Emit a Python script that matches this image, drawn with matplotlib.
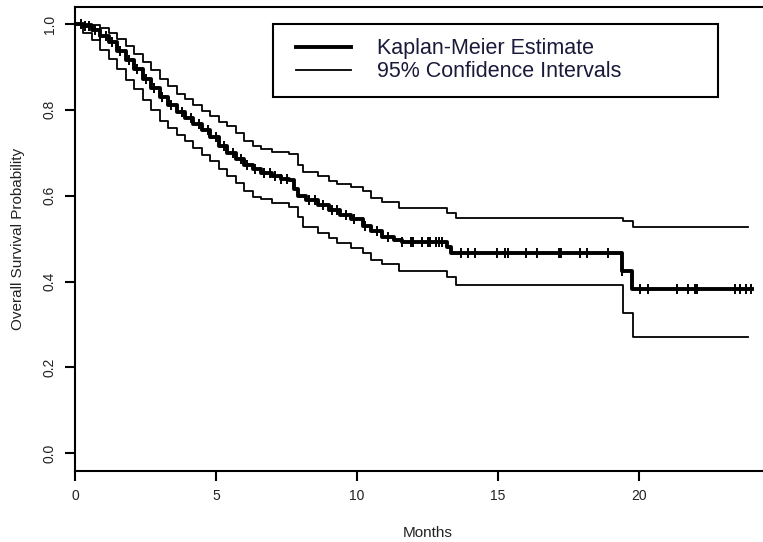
import numpy as np
import matplotlib
matplotlib.use("Agg")
import matplotlib.pyplot as plt
from matplotlib.lines import Line2D
from matplotlib.legend_handler import HandlerLine2D

plt.rcParams['font.family'] = ['Liberation Sans', 'DejaVu Sans']

# Kaplan-Meier estimate (months, survival after step)
km_time = [0.0, 0.3, 0.6, 0.9, 1.2, 1.5, 1.8, 2.1, 2.4, 2.7, 3.0, 3.3, 3.6, 3.9,
           4.2, 4.5, 4.8, 5.1, 5.4, 5.7, 6.0, 6.3, 6.6, 7.0, 7.3, 7.6, 7.75, 7.9,
           8.2, 8.6, 9.0, 9.4, 9.8, 10.2, 10.5, 10.9, 11.3, 11.6, 13.2, 13.35,
           19.39, 19.74, 24.0]
km_surv = [1.0, 0.995, 0.985, 0.972, 0.957, 0.938, 0.915, 0.895, 0.872, 0.85, 0.83,
           0.812, 0.795, 0.782, 0.768, 0.752, 0.737, 0.715, 0.70, 0.685, 0.672,
           0.662, 0.653, 0.645, 0.640, 0.636, 0.615, 0.600, 0.590, 0.578, 0.566,
           0.555, 0.545, 0.530, 0.518, 0.505, 0.497, 0.493, 0.480, 0.467,
           0.424, 0.382, 0.382]

# 95% confidence limits
ci_time = [0.0, 0.3, 0.6, 0.9, 1.2, 1.5, 1.8, 2.1, 2.4, 2.7, 3.0, 3.3, 3.6, 3.9,
           4.2, 4.5, 4.8, 5.1, 5.4, 5.7, 6.0, 6.3, 6.6, 7.0, 7.6, 7.9, 8.1, 8.6,
           9.0, 9.3, 9.8, 10.2, 10.5, 10.9, 11.5, 13.2, 13.5, 19.45, 19.8, 23.87]
upper = [1.0, 1.0, 0.997, 0.99, 0.978, 0.965, 0.948, 0.93, 0.912, 0.893, 0.873,
         0.855, 0.838, 0.826, 0.812, 0.798, 0.785, 0.772, 0.762, 0.745, 0.728,
         0.715, 0.708, 0.702, 0.698, 0.672, 0.655, 0.645, 0.635, 0.628, 0.62,
         0.612, 0.595, 0.585, 0.572, 0.56, 0.548, 0.541, 0.526, 0.526]
lower = [1.0, 0.98, 0.962, 0.94, 0.918, 0.895, 0.87, 0.848, 0.824, 0.80, 0.775,
         0.757, 0.742, 0.727, 0.71, 0.694, 0.68, 0.663, 0.645, 0.63, 0.612,
         0.598, 0.592, 0.583, 0.573, 0.55, 0.527, 0.513, 0.502, 0.49, 0.478,
         0.466, 0.45, 0.44, 0.425, 0.41, 0.393, 0.326, 0.271, 0.271]

# censored observations (months)
censored = [0.2, 0.35, 0.5, 0.7, 0.9, 1.1, 1.3, 1.6, 1.9, 2.2, 2.5, 2.8, 3.1, 3.4,
            3.8, 4.1, 4.4, 4.7, 5.0, 5.3, 5.6, 5.9, 6.1, 6.4, 6.7, 6.9, 7.1, 7.3,
            7.5, 8.3, 8.5, 8.8, 9.1, 9.3, 9.6, 9.9, 10.3, 10.7, 11.1, 11.6, 11.9,
            12.0, 12.3, 12.5, 12.6, 12.8, 12.9, 13.0, 13.69, 13.92, 14.2, 14.95,
            15.25, 15.35, 16.0, 16.37, 17.15, 17.25, 17.9, 18.17, 18.91, 19.39,
            20.04, 20.33, 21.34, 21.72, 21.98, 22.06, 23.4, 23.58, 23.8, 23.96]

fig = plt.figure(figsize=(7.63, 5.42), dpi=100)
ax = fig.add_axes([75 / 763, (542 - 470.5) / 542, (780 - 75) / 763, (470.5 - 6.8) / 542])

ax.step(ci_time, upper, where='post', color='black', lw=1.3)
ax.step(ci_time, lower, where='post', color='black', lw=1.3)
ax.step(km_time, km_surv, where='post', color='black', lw=2.8)

idx = np.searchsorted(km_time, censored, side='right') - 1
cens_y = np.array(km_surv)[idx]
ax.plot(censored, cens_y, ls='none', marker='|', ms=7, mew=1.4, color='black')

ax.set_xlim(0, 25)
ax.set_ylim(-0.04, 1.04)
ax.set_xticks([0, 5, 10, 15, 20])
ax.set_yticks([0.0, 0.2, 0.4, 0.6, 0.8, 1.0])
ax.set_yticklabels(['0.0', '0.2', '0.4', '0.6', '0.8', '1.0'], rotation=90, va='center')

for s in ['left', 'bottom', 'top']:
    ax.spines[s].set_linewidth(1.5)
ax.spines['right'].set_visible(False)
ax.tick_params(direction='out', length=7, width=1.5, labelsize=10,
               labelcolor='#222222', pad=6)

ax.set_xlabel('Months', fontsize=11, color='#222222', labelpad=17)
ax.set_ylabel('Overall Survival Probability', fontsize=11, color='#222222', labelpad=13)

handles = [Line2D([], [], color='black', lw=2.8),
           Line2D([], [], color='black', lw=1.3)]
leg = ax.legend(handles, ['Kaplan-Meier Estimate', '95% Confidence Intervals'],
                loc='upper left', bbox_to_anchor=(273 / 763, 1 - 24 / 542, 445 / 763, 0),
                bbox_transform=fig.transFigure, mode='expand', fontsize=15.5,
                handlelength=2.98, handletextpad=1.2, labelspacing=0.1,
                borderpad=0.66, borderaxespad=0, fancybox=False, framealpha=1,
                handler_map={Line2D: HandlerLine2D(xpad=0.43)})
leg.get_frame().set_edgecolor('black')
leg.get_frame().set_linewidth(1.5)
for t in leg.get_texts():
    t.set_color('#1a1a3a')

fig.savefig('out.png', dpi=100)
